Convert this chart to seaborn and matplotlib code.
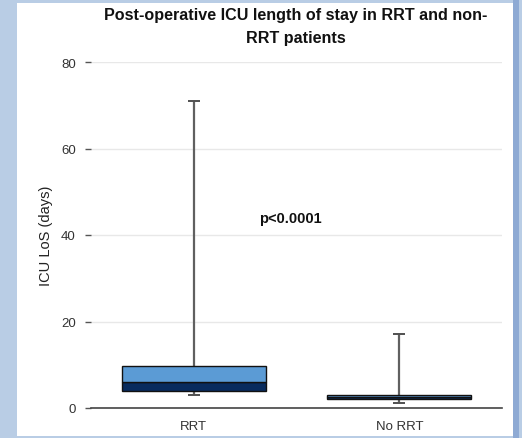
import numpy as np
import pandas as pd
import seaborn as sns
import matplotlib.pyplot as plt
from matplotlib.patches import Rectangle

groups = ["RRT", "No RRT"]
q1 = [4.0, 2.0]
median = [6.0, 2.6]
q3 = [9.7, 3.0]
w_min = [3.0, 1.2]
w_max = [71.0, 17.0]
p_text = "p<0.0001"

sns.set_theme(style="white")
plt.rcParams["font.family"] = ["Liberation Sans", "DejaVu Sans"]

fig = plt.figure(figsize=(5.22, 4.39), dpi=100)
fig.patch.set_facecolor("#b9cde5")
fig.patches.append(Rectangle((17 / 522, 2 / 439), 496 / 522, 433 / 439,
                             transform=fig.transFigure, facecolor="white",
                             edgecolor="none", zorder=-2))
fig.patches.append(Rectangle((513 / 522, 0), 6 / 522, 1,
                             transform=fig.transFigure, facecolor="#8eaad4",
                             edgecolor="none", zorder=-2))

ax = fig.add_axes([91 / 522, 30 / 439, 411 / 522, 346 / 439])
ax.set_facecolor("none")

df = pd.DataFrame({"group": groups, "q1": q1, "median": median, "q3": q3})
df["lower"] = df["median"] - df["q1"]
df["upper"] = df["q3"] - df["median"]

pos = np.arange(len(groups))
# whiskers behind the boxes
ax.vlines(pos, w_min, q1, color="#606060", lw=1.6, zorder=1)
ax.vlines(pos, q3, w_max, color="#606060", lw=1.6, zorder=1)
ax.hlines(w_min + w_max, np.concatenate([pos, pos]) - 0.03,
          np.concatenate([pos, pos]) + 0.03, color="#505050", lw=1.4, zorder=1)

sns.barplot(data=df, x="group", y="lower", bottom=df["q1"], color="#082b5e",
            saturation=1, width=0.7, edgecolor="#111111", linewidth=1.0,
            ax=ax, zorder=2)
sns.barplot(data=df, x="group", y="upper", bottom=df["median"], color="#5b9bd5",
            saturation=1, width=0.7, edgecolor="#111111", linewidth=1.0,
            ax=ax, zorder=2)

ax.set_xlim(-0.5, 1.5)
ax.set_ylim(0, 80)
ax.set_yticks([0, 20, 40, 60, 80])
ax.yaxis.grid(True, color="#e8e8e8", lw=1)
ax.set_axisbelow(True)
for s in ["top", "right", "left"]:
    ax.spines[s].set_visible(False)
ax.spines["bottom"].set_color("#444444")
ax.spines["bottom"].set_linewidth(1.2)
ax.tick_params(axis="y", left=True, length=4, width=1, color="#555555",
               labelsize=9.5, labelcolor="#333333", pad=7)
ax.tick_params(axis="x", bottom=False, labelsize=9.5, labelcolor="#333333", pad=3)
ax.set_xlabel("")
ax.set_ylabel("ICU LoS (days)", fontsize=10.5, color="#222222", labelpad=6)

ax.text(0.47, 44, p_text, ha="center", va="center", fontsize=10.5,
        fontweight="bold", color="#111111")

fig.text(296 / 522, 1 - 27 / 439,
         "Post-operative ICU length of stay in RRT and non-\nRRT patients",
         ha="center", va="center", fontsize=11.6, fontweight="bold",
         color="#111111", linespacing=1.6)

fig.savefig("out.png", dpi=100, facecolor=fig.get_facecolor())
